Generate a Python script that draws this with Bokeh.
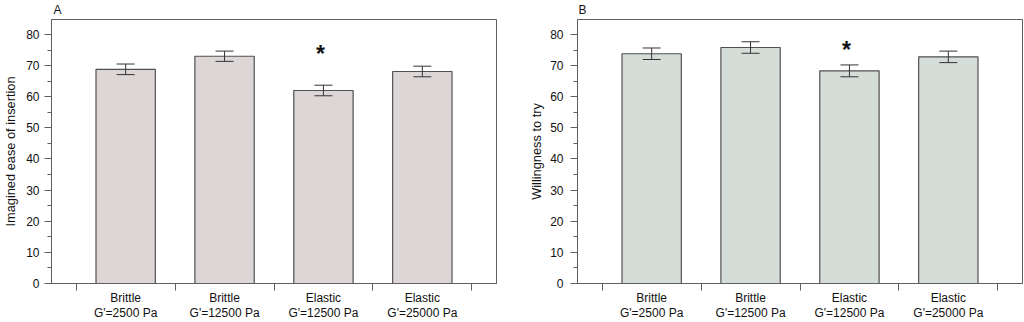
from bokeh.plotting import figure
from bokeh.layouts import row
from bokeh.models import (ColumnDataSource, Whisker, TeeHead, FixedTicker,
                          SingleIntervalTicker, Range1d)
from bokeh.core.properties import value
from bokeh.embed import file_html
from bokeh.resources import INLINE

categories = ["Brittle\nG'=2500 Pa", "Brittle\nG'=12500 Pa",
              "Elastic\nG'=12500 Pa", "Elastic\nG'=25000 Pa"]
positions = [1, 2, 3, 4]
boundaries = [0.5, 1.5, 2.5, 3.5, 4.5]
ease_values = [68.8, 73.0, 62.0, 68.1]
ease_errors = [1.7, 1.65, 1.7, 1.7]
try_values = [73.8, 75.8, 68.3, 72.8]
try_errors = [1.85, 1.85, 1.9, 1.85]
star_x = [2.97]
star_y_ease = [73.6]
star_y_try = [75.0]

FONT = "Liberation Sans"
FRAME = "#5f5f5f"
TXT = "#111111"


def make_panel(vals, errs, ylabel, fill, letter, star_y, width, mbl, mbr,
               tick_standoff, lab_standoff, letter_dx):
    p = figure(width=width, height=322, output_backend="svg", toolbar_location=None,
               x_range=Range1d(0.25, 4.75), y_range=Range1d(0, 84.8),
               min_border_left=mbl, min_border_right=mbr,
               min_border_top=19, min_border_bottom=39, title=letter)
    p.grid.visible = False
    p.outline_line_color = FRAME
    p.outline_line_width = 1
    p.background_fill_color = "white"
    p.border_fill_color = "white"

    p.title.text_font = FONT
    p.title.text_font_size = "12px"
    p.title.text_font_style = "normal"
    p.title.text_color = TXT
    p.title.align = "left"
    p.title.vertical_align = "top"
    p.title.offset = letter_dx
    p.title.standoff = 1

    src = ColumnDataSource(dict(
        x=positions, top=vals,
        upper=[v + e for v, e in zip(vals, errs)],
        lower=[v - e for v, e in zip(vals, errs)]))
    p.vbar(x="x", top="top", bottom=0, width=0.6, source=src,
           fill_color=fill, line_color="#505050", line_width=1.2)
    w = Whisker(source=src, base="x", upper="upper", lower="lower",
                line_color="#333333", line_width=1, level="overlay",
                upper_head=TeeHead(size=18, line_color="#333333", line_width=1),
                lower_head=TeeHead(size=18, line_color="#333333", line_width=1))
    p.add_layout(w)

    p.text(x=star_x, y=star_y, text=["*"], text_align="center",
           text_baseline="middle", text_font=value(FONT), text_font_size="23px",
           text_font_style="bold", text_color=TXT)

    # y axis
    ya = p.yaxis[0]
    ya.ticker = SingleIntervalTicker(interval=10, num_minor_ticks=2)
    ya.axis_label = ylabel
    ya.axis_label_text_font = FONT
    ya.axis_label_text_font_size = "12.8px"
    ya.axis_label_text_font_style = "normal"
    ya.axis_label_text_color = TXT
    ya.axis_label_standoff = lab_standoff
    ya.major_label_text_font = FONT
    ya.major_label_text_font_size = "12px"
    ya.major_label_text_color = TXT
    ya.major_label_standoff = tick_standoff
    ya.major_tick_out = 7
    ya.major_tick_in = 0
    ya.minor_tick_out = 4
    ya.minor_tick_in = 0
    ya.axis_line_color = FRAME
    ya.major_tick_line_color = FRAME
    ya.minor_tick_line_color = FRAME

    # x axis: labels at category centres, ticks at category boundaries
    xa = p.xaxis[0]
    xa.ticker = FixedTicker(ticks=positions, minor_ticks=boundaries)
    xa.major_label_overrides = {float(k): c for k, c in zip(positions, categories)}
    xa.major_label_text_font = FONT
    xa.major_label_text_font_size = "12px"
    xa.major_label_text_line_height = 1.1
    xa.major_label_text_color = TXT
    xa.major_label_standoff = 0
    xa.major_tick_out = 0
    xa.major_tick_in = 0
    xa.minor_tick_out = 7
    xa.minor_tick_in = 0
    xa.axis_line_color = FRAME
    xa.minor_tick_line_color = FRAME
    return p


p1 = make_panel(ease_values, ease_errors, "Imagined ease of insertion", "#dcd6d7",
                "A", star_y_ease, 526, 51, 30, 5, 5, 2)
p2 = make_panel(try_values, try_errors, "Willingness to try", "#d4ddd8",
                "B", star_y_try, 498, 48, 2, 7, 3, 1)

layout = row(p1, p2)

open("out.html", "w").write(file_html(layout, INLINE))
